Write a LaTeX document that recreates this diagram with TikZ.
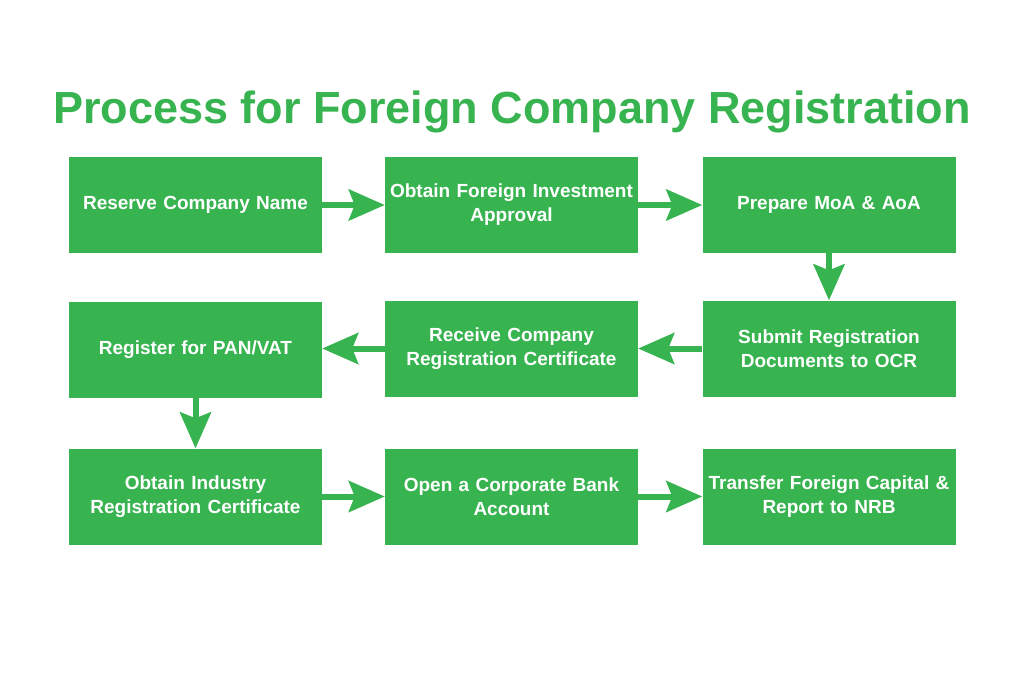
\documentclass[tikz,border=0pt]{standalone}
\usepackage{fontspec}
\setmainfont{Liberation Sans}
\usetikzlibrary{arrows.meta}
\definecolor{grn}{RGB}{55,179,80}
\begin{document}
\begin{tikzpicture}[x=1pt,y=-1pt,
  stepbox/.style={fill=grn, draw=none, minimum width=253pt, minimum height=96pt, inner sep=0pt,
    text=white, font=\bfseries\fontsize{19}{24}\selectfont, align=center, text width=252pt},
  flow/.style={draw=grn, line width=6pt, -{Stealth[length=36pt,width=31pt,inset=6pt]}}]
\useasboundingbox (0,0) rectangle (1024,683);
\node[text=grn, font=\bfseries\fontsize{45}{50}\selectfont] (title) at (512,112) {Process for Foreign Company Registration};
\node[stepbox] (a) at (195.5,205) {Reserve Company Name};
\node[stepbox] (b) at (511.5,205) {Obtain Foreign Investment\\Approval};
\node[stepbox] (c) at (829,205) {Prepare MoA \& AoA};
\node[stepbox] (d) at (829,348.5) {Submit Registration\\Documents to OCR};
\node[stepbox] (e) at (511.5,348.5) {Receive Company\\Registration Certificate};
\node[stepbox] (f) at (195.5,350) {Register for PAN/VAT};
\node[stepbox] (g) at (195.5,496.5) {Obtain Industry\\Registration Certificate};
\node[stepbox] (h) at (511.5,496.5) {Open a Corporate Bank\\Account};
\node[stepbox] (i) at (829,496.5) {Transfer Foreign Capital \&\\Report to NRB};
\draw[flow] (a.east) -- (b.west);
\draw[flow] (b.east) -- (c.west);
\draw[flow] (c.south) -- (d.north);
\draw[flow] (d.west) -- (e.east);
\draw[flow] (e.west) -- (e.west -| f.east);
\draw[flow] (f.south) -- (g.north);
\draw[flow] (g.east) -- (h.west);
\draw[flow] (h.east) -- (i.west);
\end{tikzpicture}
\end{document}
